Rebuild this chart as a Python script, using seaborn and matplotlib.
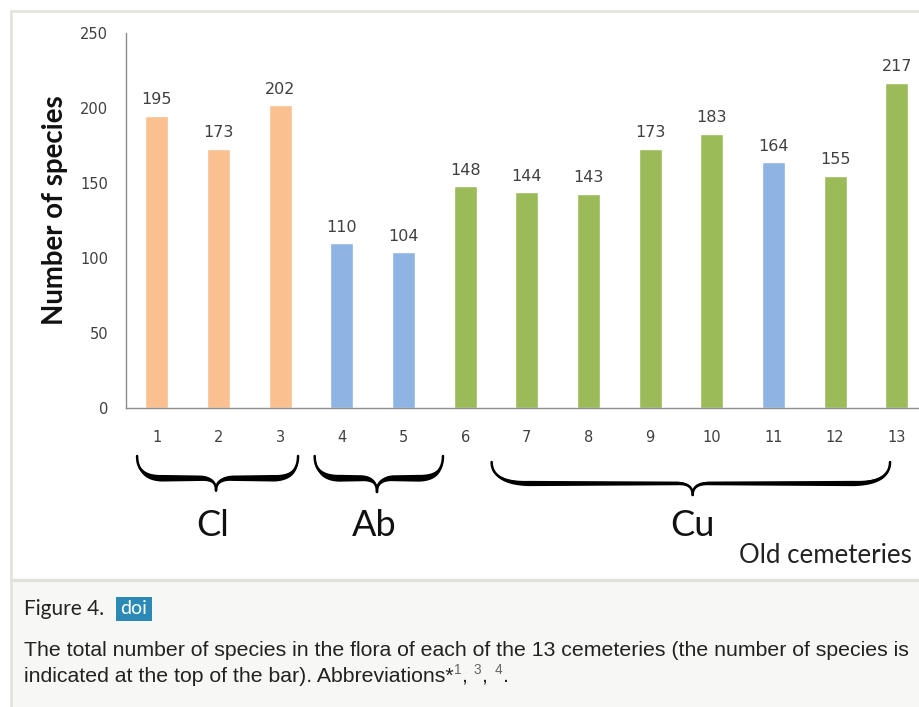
import matplotlib
matplotlib.use("Agg")
import matplotlib.pyplot as plt
from matplotlib.patches import Rectangle
from matplotlib.lines import Line2D
import seaborn as sns
import pandas as pd
import numpy as np

# data
cemeteries = ["1", "2", "3", "4", "5", "6", "7", "8", "9", "10", "11", "12", "13"]
species = [195, 173, 202, 110, 104, 148, 144, 143, 173, 183, 164, 155, 217]
bar_colour = ["orange", "orange", "orange", "blue", "blue", "green", "green",
              "green", "green", "green", "blue", "green", "green"]
groups = ["Cl", "Ab", "Cu"]

palette = {"orange": "#FAC090", "blue": "#8EB4E3", "green": "#9BBB59"}

df = pd.DataFrame({"cemetery": cemeteries, "species": species, "colour": bar_colour})

W, H = 919, 707
sns.set_style("white")
fig = plt.figure(figsize=(W / 100, H / 100), dpi=100)
fig.patch.set_facecolor("white")


def fx(px):
    return px / W


def fy(py):
    return 1 - py / H


# page frame around the figure
fig.add_artist(Rectangle((fx(12), 0), 1, fy(581), transform=fig.transFigure,
                         facecolor="#f7f7f5", edgecolor="none", zorder=0))
fig.add_artist(Line2D([fx(11), 1], [fy(11), fy(11)], transform=fig.transFigure,
                      color="#e2e2de", lw=2))
fig.add_artist(Line2D([fx(11), fx(11)], [0, fy(11)], transform=fig.transFigure,
                      color="#e2e2de", lw=2))
fig.add_artist(Line2D([fx(12), 1], [fy(580), fy(580)], transform=fig.transFigure,
                      color="#e2e2dc", lw=2.5))

ax = fig.add_axes([fx(126), fy(408), fx(W - 126), (408 - 33) / H])
ax.patch.set_alpha(0)

sns.barplot(data=df, x="cemetery", y="species", hue="colour", palette=palette,
            order=cemeteries, dodge=False, width=0.37, legend=False,
            saturation=1, ax=ax)

ax.set_xlim(-0.5, 12.36)
ax.set_ylim(0, 250)
ax.set_yticks([0, 50, 100, 150, 200, 250])
ax.tick_params(axis="both", length=0, labelcolor="#404040")
ax.tick_params(axis="x", pad=16, labelsize=10.5)
ax.tick_params(axis="y", pad=13, labelsize=10.5)
ax.set_xlabel("")
ax.set_ylabel("")
for side in ["top", "right"]:
    ax.spines[side].set_visible(False)
for side in ["left", "bottom"]:
    ax.spines[side].set_color("#8c8c8c")
    ax.spines[side].set_linewidth(1)

for i, v in enumerate(species):
    ax.annotate(str(v), (i, v), xytext=(0, 6), textcoords="offset points",
                ha="center", va="bottom", fontsize=11.5, color="#404040")

calibri = ["Lato", "DejaVu Sans"]


def quad(p0, p1, p2, n=40):
    t = np.linspace(0, 1, n)[:, None]
    return (1 - t) ** 2 * np.array(p0) + 2 * (1 - t) * t * np.array(p1) + t ** 2 * np.array(p2)


def half_brace(xa, xb, ya, yb, ytip, d, d2, flip):
    # xa = outer end, xb = tip x; flip=-1 for the right half
    pts = np.vstack([
        quad((xa, ya), (xa, yb), (xa + flip * d, yb)),
        np.array([(xa + flip * d, yb), (xb - flip * d2, yb)]),
        quad((xb - flip * d2, yb), (xb, yb), (xb, ytip)),
    ])
    seg = np.hypot(np.diff(pts[:, 0]) * 61.7, np.diff(pts[:, 1]) * 1.5)
    s = np.concatenate([[0], np.cumsum(seg)]) / seg.sum()
    th = 4.6 * np.sin(np.pi * s) ** 0.6
    if flip < 0:
        pts, th = pts[::-1], th[::-1]
    return pts[:, 0], pts[:, 1], th


# braces under the groups
brace_geom = [(-0.32, 2.29, 0.96, -32, -46.5, -55),
              (2.56, 4.64, 3.57, -32, -46.5, -56),
              (5.43, 11.89, 8.69, -36, -50, -58)]
for (x0, x1, xm, yt, yb, ytip), d in zip(brace_geom, [0.4, 0.4, 0.6]):
    for xa, flip in [(x0, 1), (x1, -1)]:
        bx, by, th = half_brace(xa, xm, yt, yb, ytip, d, 0.26, flip)
        ax.fill_between(bx, by - th / 2, by + th / 2, color="black", lw=0, clip_on=False)
        ax.plot(bx, by, color="black", lw=1.8, clip_on=False, solid_capstyle="round")

for g, xc in zip(groups, [0.91, 3.53, 8.69]):
    ax.text(xc, -78, g, ha="center", va="center", fontsize=26, family=calibri,
            color="#111111", clip_on=False)

old = ax.text(12.24, -98, "Old cemeteries", ha="right", va="center", fontsize=18,
              family=calibri, color="#222222", clip_on=False)

ylab = fig.text(fx(55), fy(210), "Number of species", rotation=90, ha="center",
                va="center", fontsize=17, family=calibri, fontweight="bold",
                color="#111111")

# caption
fig.text(fx(24), fy(609), "Figure 4.", ha="left", va="center", fontsize=15,
         family=["Lato", "DejaVu Sans"], color="#222222")
fig.add_artist(Rectangle((fx(116), fy(621)), fx(36), 24 / H, transform=fig.transFigure,
                         facecolor="#2a8ab5", edgecolor="none"))
fig.text(fx(134), fy(609), "doi", ha="center", va="center", fontsize=14,
         family=["Lato", "DejaVu Sans"], color="white")

narrow = ["Liberation Sans Narrow", "DejaVu Sans Condensed", "Liberation Sans"]
cap1 = fig.text(fx(24), fy(650),
                "The total number of species in the flora of each of the 13 cemeteries "
                "(the number of species is", ha="left", va="center", fontsize=14,
                family=narrow, color="#222222")

fig.canvas.draw()
r = fig.canvas.get_renderer()


def fit(t, target, use_height=False):
    bb = t.get_window_extent(r)
    cur = bb.height if use_height else bb.width
    t.set_fontsize(t.get_fontsize() * target / cur)


fit(cap1, 890)
fit(old, 172)
fit(ylab, 230, use_height=True)
fig.canvas.draw()
fs = cap1.get_fontsize()

pieces = [("indicated at the top of the bar). Abbreviations*", False), ("1", True),
          (", ", False), ("3", True), (", ", False), ("4", True), (".", False)]
xpos = 24
for txt, sup in pieces:
    t = fig.text(fx(xpos), fy(676 - (6 if sup else 0)), txt, ha="left", va="center",
                 fontsize=fs * (0.65 if sup else 1), family=narrow,
                 color="#666666" if sup else "#222222")
    fig.canvas.draw()
    xpos += t.get_window_extent(r).width + (1 if sup else 0)

fig.savefig("out.png", dpi=100, facecolor="white")
